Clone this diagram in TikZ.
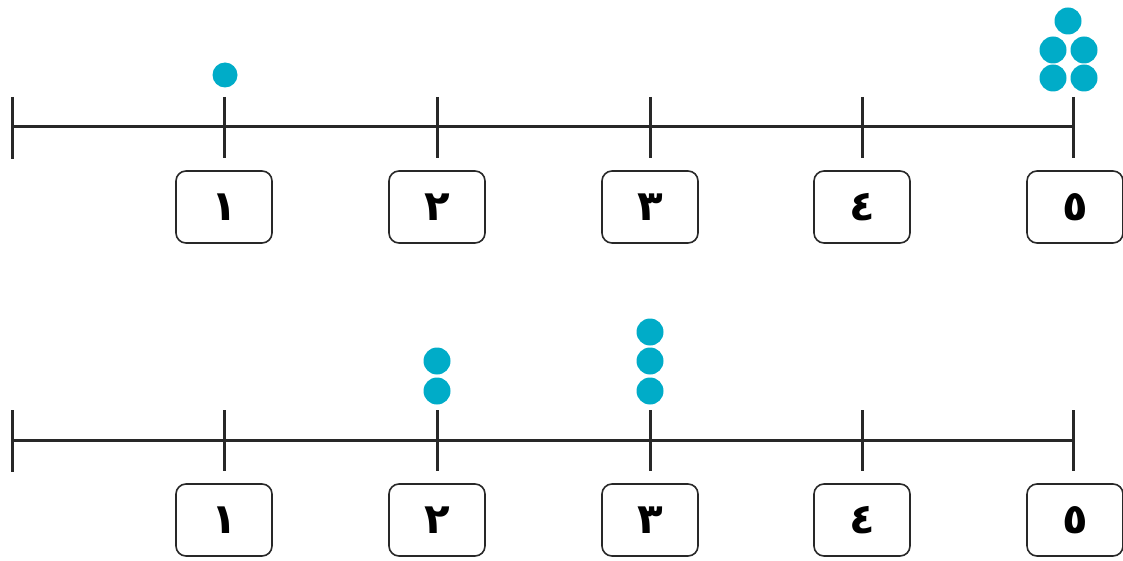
\documentclass[tikz,border=0pt]{standalone}
\usepackage{fontspec}
\newfontfamily\arabicfont[Script=Arabic]{DejaVu Sans}
\TeXXeTstate=1
\definecolor{dotc}{RGB}{0,172,200}
\definecolor{linec}{RGB}{40,40,40}
\tikzset{
  axis/.style={draw=linec, line width=3pt},
  tickl/.style={draw=linec, line width=3pt},
  numbox/.style={draw=linec, line width=1.6pt, rounded corners=10pt, minimum width=96pt, minimum height=72pt, inner sep=0pt, font=\arabicfont\bfseries\fontsize{42}{42}\selectfont},
  bead/.style={circle, fill=dotc, minimum size=27pt, inner sep=0pt}
}
\begin{document}
\begin{tikzpicture}[x=1pt,y=-1pt]
\useasboundingbox (0,0) rectangle (1123,561);
% top line
\draw[axis] (12,127) -- (1073,127);
\draw[tickl] (12,97) -- (12,159);
\foreach \x in {224,437,650,862,1073}{
  \draw[tickl] (\x,97) -- (\x,158);
}
\node[numbox] (b1) at (224,207) {\beginR ١\endR};
\node[numbox] (b2) at (437,207) {\beginR ٢\endR};
\node[numbox] (b3) at (650,207) {\beginR ٣\endR};
\node[numbox] (b4) at (862,207) {\beginR ٤\endR};
\node[numbox] (b5) at (1075,207) {\beginR ٥\endR};
% top dots
\node[bead, minimum size=25pt] (d1) at (225,75) {};
\node[bead] (e1) at (1068,21) {};
\node[bead] (e2) at (1053,50) {};
\node[bead] (e3) at (1084,50) {};
\node[bead] (e4) at (1053,78) {};
\node[bead] (e5) at (1084,78) {};
% bottom line
\draw[axis] (12,440) -- (1073,440);
\draw[tickl] (12,410) -- (12,472);
\foreach \x in {224,437,650,862,1073}{
  \draw[tickl] (\x,410) -- (\x,471);
}
\node[numbox] (c1) at (224,520) {\beginR ١\endR};
\node[numbox] (c2) at (437,520) {\beginR ٢\endR};
\node[numbox] (c3) at (650,520) {\beginR ٣\endR};
\node[numbox] (c4) at (862,520) {\beginR ٤\endR};
\node[numbox] (c5) at (1075,520) {\beginR ٥\endR};
% bottom dots
\node[bead] (f1) at (437,361) {};
\node[bead] (f2) at (437,391) {};
\node[bead] (g1) at (650,332) {};
\node[bead] (g2) at (650,361) {};
\node[bead] (g3) at (650,391) {};
\end{tikzpicture}
\end{document}
